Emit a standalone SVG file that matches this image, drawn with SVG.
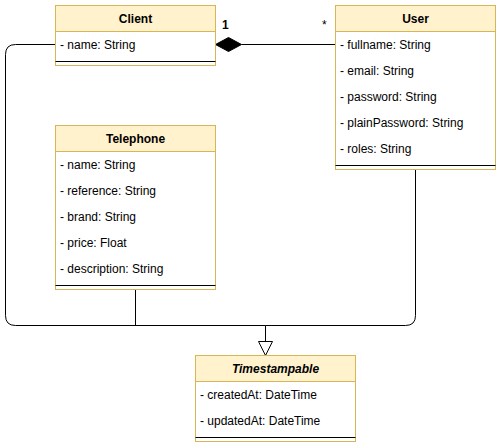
<svg xmlns="http://www.w3.org/2000/svg" width="501" height="447" viewBox="0 0 501 447">
<defs>
<style>
.hdr{fill:#fff2cc;stroke:#d6b656;stroke-width:1}
.body{fill:#ffffff;stroke:#d6b656;stroke-width:1}
.sep{stroke:#000;stroke-width:1}
.t{font-family:"Liberation Sans",Arial,Helvetica,sans-serif;font-size:12px;fill:#000}
.h{font-family:"Liberation Sans",Arial,Helvetica,sans-serif;font-size:12px;font-weight:bold;fill:#000;text-anchor:middle}
.edge{fill:none;stroke:#000;stroke-width:1}
</style>
</defs>
<rect width="501" height="447" fill="#ffffff"/>
<g id="connectors">
<path class="edge" d="M55.5 44.5 H15.5 Q5.5 44.5 5.5 54.5 V315.5 Q5.5 325.5 15.5 325.5 H265.5"/>
<path class="edge" d="M135.5 289.5 V325.5"/>
<path class="edge" d="M415.5 169.5 V315.5 Q415.5 325.5 405.5 325.5 H265.5 V341.5"/>
<polygon points="265.5,355.5 258.5,341.5 272.5,341.5" fill="#ffffff" stroke="#000" stroke-width="1"/>
<path class="edge" d="M335.5 44.5 H241.5"/>
<polygon points="215.5,44.5 228.5,37.5 241.5,44.5 228.5,51.5" fill="#000" stroke="#000" stroke-width="1"/>
<text class="t" x="222" y="29" font-weight="bold">1</text>
<text class="t" x="322" y="29">*</text>
</g>
<g id="client">
<rect class="body" x="55.5" y="5.5" width="160" height="60"/>
<rect class="hdr" x="55.5" y="5.5" width="160" height="26"/>
<text class="h" x="135.5" y="23">Client</text>
<text class="t" x="60" y="49">- name: String</text>
<line class="sep" x1="55.5" y1="61.5" x2="215.5" y2="61.5"/>
</g>
<g id="user">
<rect class="body" x="335.5" y="5.5" width="160" height="164"/>
<rect class="hdr" x="335.5" y="5.5" width="160" height="26"/>
<text class="h" x="415.5" y="23">User</text>
<text class="t" x="340" y="49">- fullname: String</text>
<text class="t" x="340" y="75">- email: String</text>
<text class="t" x="340" y="101">- password: String</text>
<text class="t" x="340" y="127">- plainPassword: String</text>
<text class="t" x="340" y="153">- roles: String</text>
<line class="sep" x1="335.5" y1="165.5" x2="495.5" y2="165.5"/>
</g>
<g id="telephone">
<rect class="body" x="55.5" y="125.5" width="160" height="164"/>
<rect class="hdr" x="55.5" y="125.5" width="160" height="26"/>
<text class="h" x="135.5" y="143">Telephone</text>
<text class="t" x="60" y="169">- name: String</text>
<text class="t" x="60" y="195">- reference: String</text>
<text class="t" x="60" y="221">- brand: String</text>
<text class="t" x="60" y="247">- price: Float</text>
<text class="t" x="60" y="273">- description: String</text>
<line class="sep" x1="55.5" y1="285.5" x2="215.5" y2="285.5"/>
</g>
<g id="timestampable">
<rect class="body" x="195.5" y="355.5" width="160" height="86"/>
<rect class="hdr" x="195.5" y="355.5" width="160" height="26"/>
<text class="h" x="275.5" y="373" font-style="italic">Timestampable</text>
<text class="t" x="200" y="399">- createdAt: DateTime</text>
<text class="t" x="200" y="425">- updatedAt: DateTime</text>
<line class="sep" x1="195.5" y1="437.5" x2="355.5" y2="437.5"/>
</g>
</svg>
